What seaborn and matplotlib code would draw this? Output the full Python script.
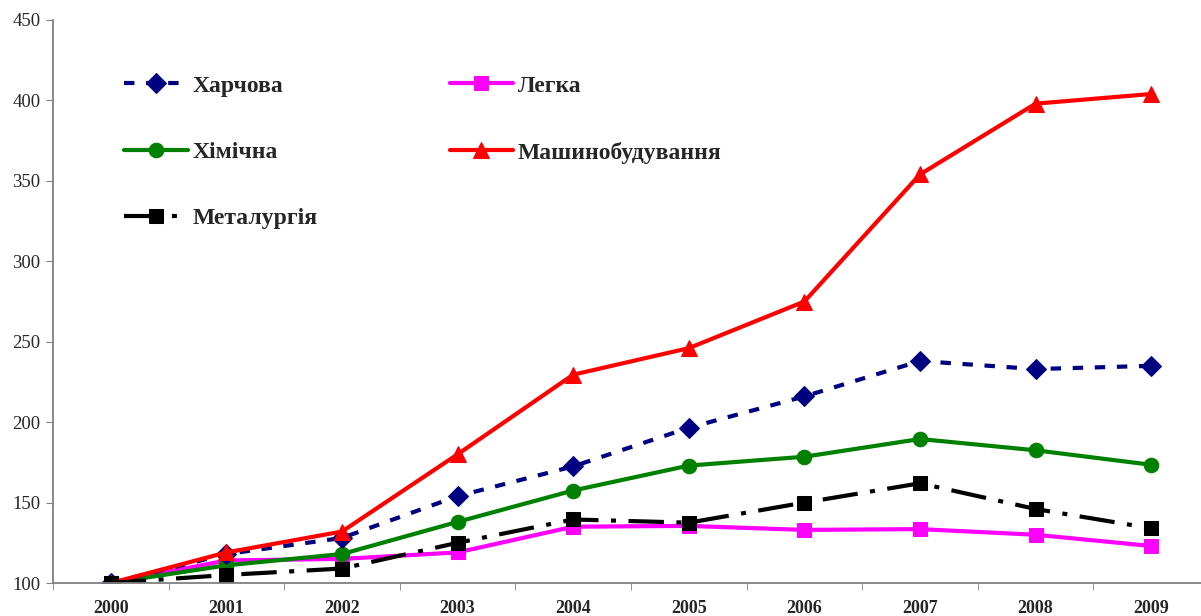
import pandas as pd
import seaborn as sns
import matplotlib.pyplot as plt
from matplotlib.ticker import FixedLocator, MultipleLocator

# Індекси виробництва за галузями (2000 = 100)
roky = ['2000', '2001', '2002', '2003', '2004', '2005', '2006', '2007', '2008', '2009']
harchova = [100, 118, 128, 154, 172.5, 196.5, 216, 238, 233, 235]
legka = [100, 114, 115, 119, 135, 135.5, 133, 133.5, 130, 123]
himichna = [100, 111, 118, 138, 157.5, 173, 178.5, 189.5, 182.5, 173.5]
mashyno = [100, 119, 132, 180, 229.5, 246, 275, 354, 398, 404]
metal = [100, 105, 109, 125, 139.5, 137.5, 150, 162, 146, 134]

seriyi = {
    'Харчова': harchova,
    'Легка': legka,
    'Хімічна': himichna,
    'Машинобудування': mashyno,
    'Металургія': metal,
}
styli = {
    'Харчова': dict(color='#000080', marker='D', markersize=10, dash=(2.5, 2.8)),
    'Легка': dict(color='#FF00FF', marker='s', markersize=10.5, dash=None),
    'Хімічна': dict(color='#008000', marker='o', markersize=10.5, dash=None),
    'Машинобудування': dict(color='#FF0000', marker='^', markersize=12, dash=None),
    'Металургія': dict(color='#000000', marker='s', markersize=10.5, dash=(8.5, 3, 1.2, 3)),
}

df = pd.DataFrame(seriyi)
df['x'] = range(len(roky))

sns.set_style('white')
plt.rcParams['font.family'] = ['Liberation Serif', 'DejaVu Serif']

fig = plt.figure(figsize=(12.01, 6.16), dpi=100)
ax = fig.add_axes([53 / 1201, 33 / 616, 1156 / 1201, 563 / 616])

for nazva in ['Легка', 'Хімічна', 'Харчова', 'Машинобудування', 'Металургія']:
    s = styli[nazva]
    sns.lineplot(data=df, x='x', y=nazva, ax=ax, color=s['color'], marker=s['marker'],
                 markersize=s['markersize'], markeredgecolor=s['color'], linewidth=3.0,
                 label=nazva)
    if s['dash'] is not None:
        ax.lines[-1].set_dashes(s['dash'])

ax.set_xlim(-0.5, 9.5)
ax.set_ylim(100, 450)
ax.yaxis.set_major_locator(MultipleLocator(50))
ax.set_xticks(range(len(roky)))
ax.set_xticklabels(roky, fontweight='bold', fontsize=13)
ax.xaxis.set_minor_locator(FixedLocator([i + 0.5 for i in range(-1, 10)]))
ax.tick_params(axis='x', which='major', length=0, pad=12)
ax.tick_params(axis='x', which='minor', length=5, color='#808080', direction='out', bottom=True)
ax.tick_params(axis='y', length=5, color='#808080', direction='out', left=True, labelsize=13.5, pad=4)
ax.set_xlabel('')
ax.set_ylabel('')

sns.despine(ax=ax, top=True, right=True)
for sp in ['left', 'bottom']:
    ax.spines[sp].set_color('#808080')
    ax.spines[sp].set_linewidth(1.3)

# Легенда у два стовпці
h, l = ax.get_legend_handles_labels()
poryadok = ['Харчова', 'Хімічна', 'Металургія', 'Легка', 'Машинобудування']
hh = [h[l.index(n)] for n in poryadok]
ax.legend(hh, poryadok, ncol=2, frameon=False, loc='upper left', borderpad=0,
          bbox_to_anchor=(0.051, 0.923), prop=dict(weight='bold', size=17),
          handlelength=2.7, handletextpad=0.2, labelspacing=1.9, columnspacing=5.6)

fig.savefig('out.png', dpi=100)
